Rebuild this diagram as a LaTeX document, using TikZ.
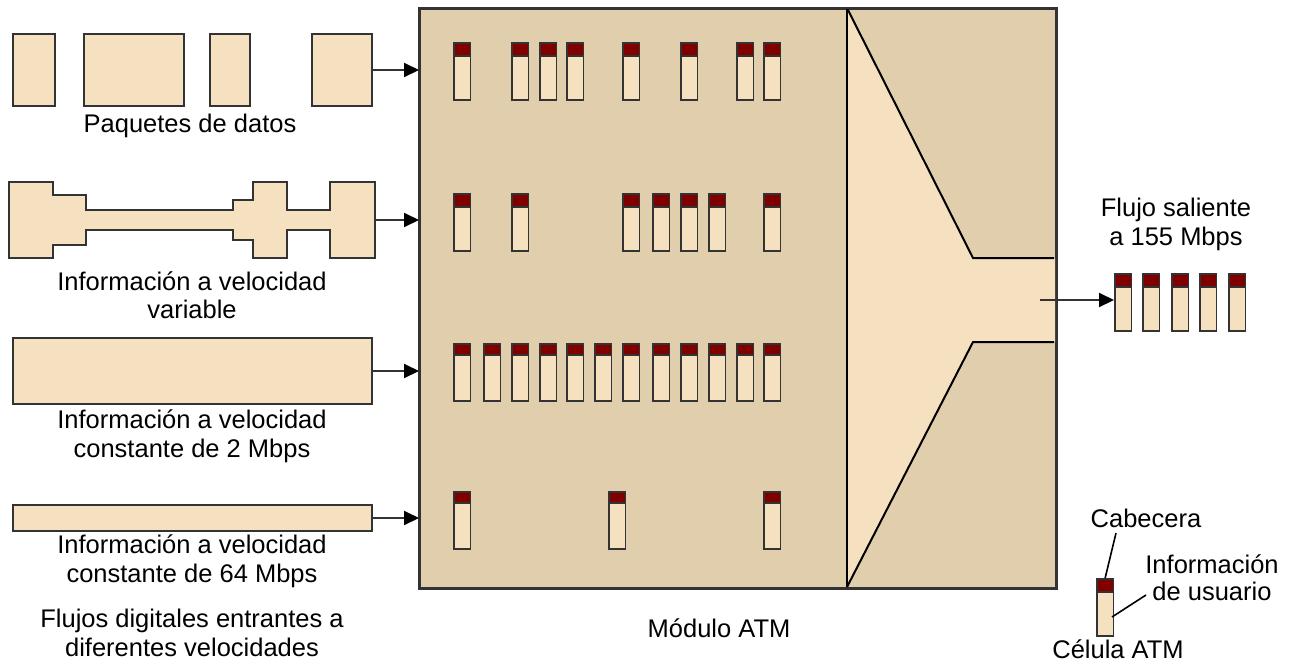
\documentclass[tikz,border=0pt]{standalone}
\usepackage{fontspec}
\setmainfont{Liberation Sans}
\usetikzlibrary{arrows.meta}
\definecolor{modfill}{RGB}{224,206,172}
\definecolor{lightfill}{RGB}{245,225,192}
\definecolor{hdr}{RGB}{128,0,0}
\definecolor{edgec}{RGB}{51,51,51}
\newcommand\atmcell[4]{%
  \node[cellbody,anchor=north west] (#1) at (#2,#3) {};
  \node[cellhead,anchor=north west,minimum height=#4] (#1h) at (#2,#3) {};
}
\begin{document}
\begin{tikzpicture}[x=1pt,y=-1pt,
  box/.style={draw=edgec,line width=2pt,fill=lightfill,inner sep=0pt,anchor=north west},
  lbl/.style={font=\fontsize{25.5}{29}\selectfont,anchor=base,inner sep=0pt},
  arr/.style={draw=edgec,line width=2pt,-{Triangle[length=15pt,width=14pt,color=black]}},
  cellbody/.style={draw=edgec,line width=1.8pt,fill=lightfill,inner sep=0pt,minimum width=16.5pt,minimum height=57pt},
  cellhead/.style={draw=edgec,line width=1.8pt,fill=hdr,inner sep=0pt,minimum width=16.5pt},
  funnel/.style={draw=black,line width=2pt},
  pointer/.style={draw=black,line width=1.6pt}]
\useasboundingbox (0,0) rectangle (1293,664);
% ATM module
\node[draw=edgec,fill=modfill,line width=2pt,anchor=north west,minimum width=636pt,minimum height=579pt,inner sep=0pt] (mod) at (419,8) {};
\fill[lightfill] (847,8) -- (973,258) -- (1055,258) -- (1055,342) -- (973,342) -- (847,587) -- cycle;
\draw[funnel] (847,8) -- (973,258) -- (1054,258);
\draw[funnel] (847,587) -- (973,342) -- (1054,342);
\draw[funnel] (847,8) -- (847,587);
\draw[draw=edgec,line width=2pt] (mod.north west) rectangle (mod.south east);
% row 1: packets
\node[box,minimum width=42pt,minimum height=72pt] (p1) at (12,33) {};
\node[box,minimum width=100pt,minimum height=72pt] (p2) at (83,33) {};
\node[box,minimum width=40pt,minimum height=72pt] (p3) at (209,33) {};
\node[box,minimum width=60pt,minimum height=72pt] (p4) at (311,33) {};
\draw[arr] (p4.east) -- (p4.east -| mod.west);
\node[lbl] (l1) at (190,132) {Paquetes de datos};
% row 2: variable rate
\draw[draw=edgec,line width=2pt,fill=lightfill]
  (9,182) -- (53,182) -- (53,195) -- (86,195) -- (86,210) -- (233,210) -- (233,200) -- (253,200)
  -- (253,182) -- (287,182) -- (287,210) -- (330,210) -- (330,182) -- (375,182)
  -- (375,258) -- (330,258) -- (330,230) -- (287,230) -- (287,258) -- (253,258)
  -- (253,240) -- (233,240) -- (233,230) -- (86,230) -- (86,245) -- (53,245) -- (53,258) -- (9,258) -- cycle;
\coordinate (v) at (375,220);
\draw[arr] (v) -- (v -| mod.west);
\node[lbl] (l2a) at (192,290) {Información a velocidad};
\node[lbl] (l2b) at (192,318) {variable};
% row 3
\node[box,minimum width=359pt,minimum height=66pt] (r3) at (12,337) {};
\draw[arr] (r3.east) -- (r3.east -| mod.west);
\node[lbl] (l3a) at (192,428) {Información a velocidad};
\node[lbl] (l3b) at (192,457) {constante de 2 Mbps};
% row 4
\node[box,minimum width=359pt,minimum height=26pt] (r4) at (12,504) {};
\draw[arr] (r4.east) -- (r4.east -| mod.west);
\node[lbl] (l4a) at (192,553) {Información a velocidad};
\node[lbl] (l4b) at (192,582) {constante de 64 Mbps};
\node[lbl] (l5a) at (192,627) {Flujos digitales entrantes a};
\node[lbl] (l5b) at (192,656) {diferentes velocidades};
% cells in module
\foreach \x [count=\i] in {453,511,539,566,622,680,736,763} {\atmcell{ra\i}{\x}{42}{13pt}}
\foreach \x [count=\i] in {453,511,622,652,680,708,763} {\atmcell{rb\i}{\x}{193}{13pt}}
\foreach \x [count=\i] in {453,483,511,539,566,594,622,652,680,708,736,763} {\atmcell{rc\i}{\x}{343}{11pt}}
\foreach \x [count=\i] in {453,608,763} {\atmcell{rd\i}{\x}{491}{11pt}}
\node[lbl] (lm) at (719,637) {Módulo ATM};
% output
\foreach \x [count=\i] in {1114,1142,1171,1199,1228} {\atmcell{o\i}{\x}{273}{13pt}}
\coordinate (os) at (1040,300);
\draw[arr] (os) -- (os -| o1.west);
\node[lbl] (lo1) at (1176,216) {Flujo saliente};
\node[lbl] (lo2) at (1176,245) {a 155 Mbps};
% legend
\atmcell{lg}{1096}{578}{13pt}
\node[lbl] (lcab) at (1146,527) {Cabecera};
\node[lbl] (linf1) at (1212,573) {Información};
\node[lbl] (linf2) at (1212,600) {de usuario};
\node[lbl] (lcel) at (1118,658) {Célula ATM};
\coordinate (cabend) at (1116,533);
\coordinate (infend) at (1146,595);
\coordinate (infcell) at (1112,617);
\draw[pointer] (cabend) -- (lgh.north);
\draw[pointer] (infend) -- (infcell);
\end{tikzpicture}
\end{document}
